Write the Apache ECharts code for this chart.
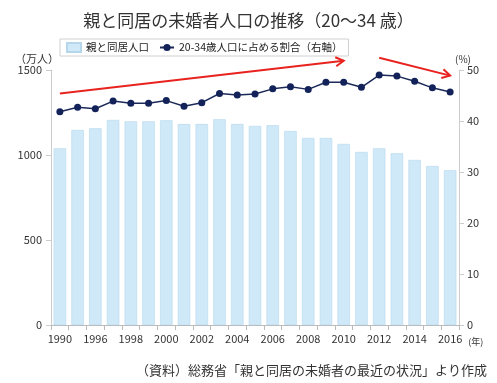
<!DOCTYPE html>
<html><head><meta charset="utf-8">
<script src="https://cdn.jsdelivr.net/npm/echarts@6/dist/echarts.min.js"></script>
<style>html,body{margin:0;padding:0;background:#fff}#c{width:497px;height:383px}</style>
</head><body><div id="c"></div>
<script>
const categories = ['1990','1995','1996','1997','1998','1999','2000','2001','2002','2003','2004','2005','2006','2007','2008','2009','2010','2011','2012','2013','2014','2015','2016'];
const livingWithParents = [1039,1147,1157,1206,1198,1198,1204,1182,1182,1210,1182,1171,1175,1141,1100,1100,1065,1018,1039,1010,971,935,910];
const shareOfAgeGroup = [41.8,42.7,42.4,43.9,43.5,43.5,44.0,42.9,43.6,45.4,45.1,45.3,46.3,46.7,46.2,47.6,47.6,46.6,49.0,48.8,47.8,46.5,45.7];
const leftTicks = [0,500,1000,1500];
const rightTicks = [0,10,20,30,40,50];
const seriesNames = ['親と同居人口','20-34歳人口に占める割合（右軸）'];
// trend arrows (category index, right-axis %)
const trendUp = [[-0.1,45.4],[16.2,51.8]];
const trendDown = [[18.0,52.4],[22.2,48.9]];

const chart = echarts.init(document.getElementById('c'), null, {renderer:'canvas'});
const font = '"Noto Sans CJK JP","Noto Sans",sans-serif';
const footer = {type:'text',right:10,top:364,
    style:{text:'（資料）総務省「親と同居の未婚者の最近の状況」より作成',font:'13px '+font,fill:'#333'}};
chart.setOption({
  animation:false,
  textStyle:{fontFamily:font},
  title:{text:'親と同居の未婚者人口の推移（20～34 歳）',left:'center',top:7,
    textStyle:{fontSize:17,fontWeight:'normal',color:'#333',fontFamily:font}},
  legend:{left:60,top:39,itemWidth:14,itemHeight:9,itemGap:10,padding:[3,6],
    borderColor:'#d0d0d0',borderWidth:1,textStyle:{fontSize:10.5,color:'#222'},
    data:[{name:seriesNames[0],icon:'rect'},{name:seriesNames[1]}]},
  grid:{left:51,right:38,top:70,bottom:58},
  xAxis:{type:'category',data:categories,
    axisLine:{lineStyle:{color:'#bbb'}},
    axisTick:{show:true,alignWithLabel:false,interval:0,lineStyle:{color:'#bbb'}},
    axisLabel:{interval:1,color:'#333',fontSize:11,margin:8},
    name:'(年)',nameLocation:'end',nameGap:2,
    nameTextStyle:{fontSize:9,color:'#333',verticalAlign:'top',padding:[12,0,0,0]}},
  yAxis:[
    {type:'value',min:0,max:1500,interval:500,
     axisLine:{show:true,lineStyle:{color:'#ccc'}},axisTick:{show:true,lineStyle:{color:'#ccc'}},
     splitLine:{show:false},axisLabel:{color:'#333',fontSize:11,margin:9,formatter:v=>String(v)},
     name:'（万人）',nameLocation:'end',nameGap:5,
     nameTextStyle:{fontSize:11,color:'#333',align:'right',padding:[0,-8,0,0]}},
    {type:'value',min:0,max:50,interval:10,position:'right',
     axisLine:{show:true,lineStyle:{color:'#ccc'}},axisTick:{show:true,lineStyle:{color:'#ccc'}},
     splitLine:{show:false},axisLabel:{color:'#333',fontSize:11,margin:8,formatter:v=>String(v)},
     name:'(%)',nameLocation:'end',nameGap:5,
     nameTextStyle:{fontSize:10,color:'#333',align:'left',padding:[0,0,0,-4]}}
  ],
  series:[
    {name:seriesNames[0],type:'bar',data:livingWithParents,yAxisIndex:0,barCategoryGap:'30%',
     itemStyle:{color:'#cfe9f9',borderColor:'#b6d6ec',borderWidth:0.6}},
    {name:seriesNames[1],type:'line',data:shareOfAgeGroup,yAxisIndex:1,
     symbol:'circle',symbolSize:7,lineStyle:{color:'#1c2a5a',width:1.5},
     itemStyle:{color:'#13235a'}}
  ],
  graphic:[footer]
});

function arrow(seg){
  const p0 = chart.convertToPixel({xAxisIndex:0,yAxisIndex:1},seg[0]);
  const p1 = chart.convertToPixel({xAxisIndex:0,yAxisIndex:1},seg[1]);
  const ang = Math.atan2(p1[1]-p0[1],p1[0]-p0[0]);
  const L=8,W=4.5;
  const bx=p1[0]-L*Math.cos(ang), by=p1[1]-L*Math.sin(ang);
  const nx=-Math.sin(ang), ny=Math.cos(ang);
  return [
    {type:'line',shape:{x1:p0[0],y1:p0[1],x2:p1[0],y2:p1[1]},style:{stroke:'#e8231f',lineWidth:2},z:10},
    {type:'polyline',shape:{points:[[bx+W*nx,by+W*ny],[p1[0],p1[1]],[bx-W*nx,by-W*ny]]},
     style:{stroke:'#e8231f',lineWidth:2,fill:null,lineJoin:'miter'},z:10}
  ];
}
chart.setOption({graphic:[footer].concat(arrow(trendUp),arrow(trendDown))});
</script></body></html>
